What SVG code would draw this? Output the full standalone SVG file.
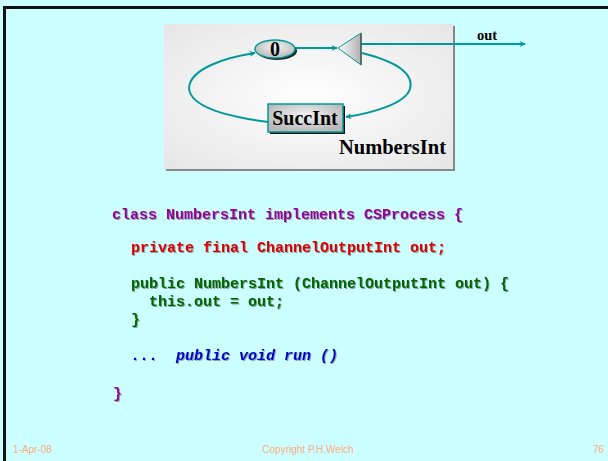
<svg xmlns="http://www.w3.org/2000/svg" width="608" height="461" viewBox="0 0 608 461">
  <style>
    .lbl { font-family: "Liberation Serif", "Times New Roman", serif; font-weight: bold; fill: #000; }
    .code { font-family: "Liberation Mono", "Courier New", monospace; font-weight: bold; font-size: 15px; filter: url(#txtShadow); }
    .foot { font-family: "Liberation Sans", Arial, sans-serif; font-size: 10px; fill: #ffaa80; }
    .wire { fill: none; stroke: #009999; stroke-width: 2; }
  </style>
  <defs>
    <radialGradient id="panelFill" cx="0.5" cy="0.5" r="0.7">
      <stop offset="0" stop-color="#ffffff"/>
      <stop offset="1" stop-color="#e6e6e6"/>
    </radialGradient>
    <radialGradient id="nodeFill" cx="0.5" cy="0.4" r="0.6">
      <stop offset="0" stop-color="#f4f4f4"/>
      <stop offset="1" stop-color="#b8b8b8"/>
    </radialGradient>
    <linearGradient id="triFill" x1="0" y1="0" x2="1" y2="0">
      <stop offset="0" stop-color="#ffffff"/>
      <stop offset="1" stop-color="#b0b0b0"/>
    </linearGradient>
    <marker id="arrow" viewBox="0 0 10 10" refX="9" refY="5" markerWidth="8" markerHeight="6" markerUnits="userSpaceOnUse" orient="auto">
      <path d="M0,0 L10,5 L0,10 L3,5 Z" fill="#009999"/>
    </marker>
    <filter id="txtShadow" x="-5%" y="-20%" width="110%" height="140%">
      <feDropShadow dx="1" dy="1" stdDeviation="0.3" flood-color="#333" flood-opacity="0.45"/>
    </filter>
  </defs>

  <!-- slide background and frame -->
  <rect x="0" y="0" width="608" height="461" fill="#ccffff"/>
  <rect x="3" y="6" width="605" height="3" fill="#111"/>
  <rect x="3" y="6" width="3" height="455" fill="#111"/>

  <!-- NumbersInt process panel -->
  <g id="numbersInt">
    <rect x="166" y="26" width="289" height="145" fill="#888"/>
    <rect x="164" y="24" width="289" height="145" fill="url(#panelFill)"/>
    <text class="lbl" x="446" y="154" font-size="20.5" text-anchor="end">NumbersInt</text>
  </g>

  <!-- connectors -->
  <g id="connectors">
    <line class="wire" x1="295" y1="48" x2="337" y2="48" marker-end="url(#arrow)"/>
    <line class="wire" x1="361" y1="44" x2="525" y2="44" marker-end="url(#arrow)"/>
    <path class="wire" d="M362 53 C398 62 414 74 410 89 C405 104 372 113 346 117" marker-end="url(#arrow)"/>
    <path class="wire" d="M268 122 C222 116 190 106 189 88 C190 68 228 57 255 53" marker-end="url(#arrow)"/>
    <text class="lbl" x="477" y="40" font-size="14.5">out</text>
  </g>

  <!-- prefix node: 0 -->
  <g id="prefix0">
    <ellipse cx="277" cy="51" rx="20" ry="9" fill="#222"/>
    <ellipse cx="275" cy="49" rx="20" ry="9" fill="url(#nodeFill)" stroke="#009999" stroke-width="1.5"/>
    <text class="lbl" x="275" y="56" font-size="20" text-anchor="middle">0</text>
  </g>

  <!-- delta (output) node -->
  <g id="delta">
    <polygon points="338,48 361,33 361,65" fill="url(#triFill)" stroke="#009999" stroke-width="1"/>
    <line x1="361" y1="33" x2="361" y2="65" stroke="#555" stroke-width="1.5"/>
  </g>

  <!-- SuccInt node -->
  <g id="succInt">
    <rect x="270" y="106" width="75" height="28" fill="#111"/>
    <rect x="268" y="104" width="75" height="28" fill="url(#nodeFill)" stroke="#009999" stroke-width="1.5"/>
    <text class="lbl" x="305" y="125" font-size="20" text-anchor="middle">SuccInt</text>
  </g>

  <!-- Java source -->
  <g id="source">
    <text class="code" x="112" y="219" fill="#990099">class NumbersInt implements CSProcess {</text>
    <text class="code" x="131" y="252" fill="#dd0000">private final ChannelOutputInt out;</text>
    <text class="code" x="131" y="288" fill="#006600">public NumbersInt (ChannelOutputInt out) {</text>
    <text class="code" x="149" y="306" fill="#006600">this.out = out;</text>
    <text class="code" x="131" y="324" fill="#006600">}</text>
    <text class="code" x="131" y="360" fill="#0000cc" font-style="italic" xml:space="preserve">...  public void run ()</text>
    <text class="code" x="113" y="398" fill="#990099">}</text>
  </g>

  <!-- footer -->
  <g id="footer">
    <text class="foot" x="13" y="453">1-Apr-08</text>
    <text class="foot" x="308" y="453" text-anchor="middle">Copyright P.H.Welch</text>
    <text class="foot" x="604" y="453" text-anchor="end">76</text>
  </g>
</svg>
